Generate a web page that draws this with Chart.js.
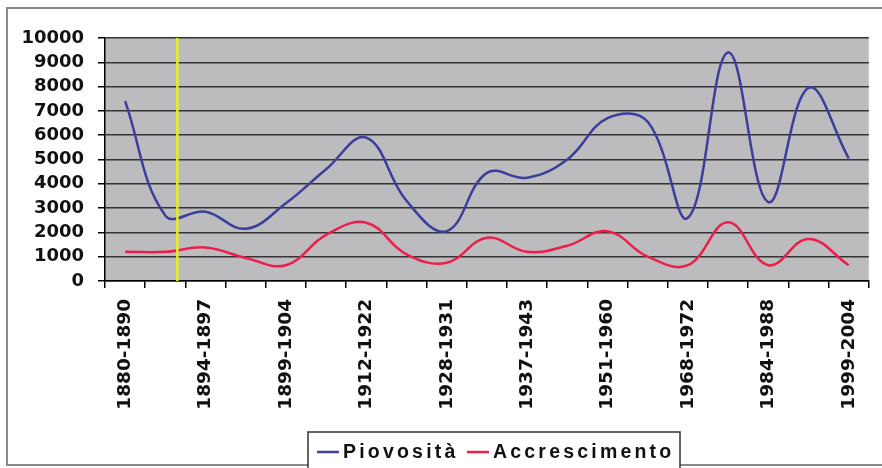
<!DOCTYPE html>
<html>
<head>
<meta charset="utf-8">
<script src="https://cdn.jsdelivr.net/npm/chart.js@4.4.1/dist/chart.umd.min.js"></script>
<style>
  html, body { margin: 0; padding: 0; background: #fff; }
  #chart { display: block; }
</style>
</head>
<body>
<canvas id="chart" width="882" height="468"></canvas>
<script>
// periods (only every other label is printed on the axis)
const periods = [
    "1880-1890", "", "1894-1897", "", "1899-1904", "", "1912-1922", "",
    "1928-1931", "", "1937-1943", "", "1951-1960", "", "1968-1972", "",
    "1984-1988", "", "1999-2004"
];

const piovosita = [
    7400, 2700, 2850, 2150, 3200, 4600, 5900, 3300, 2050, 4450,
    4250, 5000, 6700, 6550, 2600, 9400, 3250, 7950, 5050
];

const accrescimento = [
    1200, 1200, 1380, 950, 650, 1900, 2400, 1100, 750, 1780,
    1200, 1450, 2050, 1000, 650, 2420, 650, 1730, 650
];

const yTicks = { min: 0, max: 10000, step: 1000 };

// the yellow marker sits a little after the second period
const markerIndex = 1.3;

const BLUE = "#3b3e9c";
const RED = "#ec1f4b";
const FONT = "'DejaVu Sans', Arial, sans-serif";

const chartDecor = {
    id: "chartDecor",
    beforeDraw(chart) {
        const { ctx, chartArea: a } = chart;
        ctx.save();
        ctx.fillStyle = "#bcbcbe";
        ctx.fillRect(a.left, a.top, a.right - a.left, a.bottom - a.top);
        ctx.restore();
    },
    afterDatasetsDraw(chart) {
        const { ctx, chartArea: a } = chart;
        const x = chart.scales.x.getPixelForValue(markerIndex);
        ctx.save();
        ctx.strokeStyle = "#e6f01e";
        ctx.lineWidth = 2.5;
        ctx.beginPath();
        ctx.moveTo(x, a.top);
        ctx.lineTo(x, a.bottom);
        ctx.stroke();
        ctx.restore();
    },
    afterDraw(chart) {
        const ctx = chart.ctx;
        ctx.save();
        // outer frame
        ctx.strokeStyle = "#8a8a8a";
        ctx.lineWidth = 2;
        ctx.strokeRect(7, 8, chart.width, 457);

        // legend box
        ctx.strokeStyle = "#333";
        ctx.lineWidth = 1.5;
        ctx.fillStyle = "#fff";
        ctx.fillRect(308, 432, 372, 40);
        ctx.strokeRect(308, 432, 372, 40);

        ctx.font = "bold 19.5px 'Liberation Sans', Arial, sans-serif";
        ctx.letterSpacing = "3.2px";
        ctx.textBaseline = "middle";
        const itemX = [317, 467];
        const y = 452;
        chart.data.datasets.forEach((ds, i) => {
            const x = itemX[i];
            ctx.strokeStyle = ds.borderColor;
            ctx.lineWidth = 2.5;
            ctx.beginPath();
            ctx.moveTo(x, y);
            ctx.lineTo(x + 22, y);
            ctx.stroke();
            ctx.fillStyle = "#111";
            ctx.fillText(ds.label, x + 26, y + 1);
        });
        ctx.restore();
    }
};

new Chart(document.getElementById("chart"), {
    type: "line",
    data: {
        labels: periods,
        datasets: [
            {
                label: "Piovosità",
                data: piovosita,
                borderColor: BLUE,
                borderWidth: 2.5,
                pointRadius: 0,
                tension: 0.4,
                fill: false,
            },
            {
                label: "Accrescimento",
                data: accrescimento,
                borderColor: RED,
                borderWidth: 2.5,
                pointRadius: 0,
                tension: 0.4,
                fill: false,
            }
        ]
    },
    options: {
        responsive: false,
        animation: false,
        layout: { padding: { left: 0, top: 38, right: 4, bottom: 0 } },
        plugins: {
            legend: { display: false },
            tooltip: { enabled: false }
        },
        scales: {
            x: {
                offset: true,
                afterFit: (scale) => { scale.height = 187; },
                grid: {
                    offset: true,
                    drawOnChartArea: false,
                    drawTicks: true,
                    tickLength: 7,
                    color: "#000",
                    lineWidth: 1.5
                },
                border: { display: true, color: "#000", width: 1.5 },
                ticks: {
                    autoSkip: false,
                    maxRotation: 90,
                    minRotation: 90,
                    padding: 11,
                    color: "#111",
                    font: { family: FONT, size: 18.5, weight: "bold" }
                }
            },
            y: {
                min: yTicks.min,
                max: yTicks.max,
                afterFit: (scale) => { scale.width = 105; },
                grid: {
                    color: "#333",
                    lineWidth: 1.5,
                    tickColor: "#000",
                    tickLength: 7
                },
                border: { display: true, color: "#000", width: 1.5 },
                ticks: {
                    autoSkip: false,
                    stepSize: yTicks.step,
                    padding: 14,
                    color: "#111",
                    font: { family: FONT, size: 18, weight: "bold" },
                    callback: (value) => String(value)
                }
            }
        }
    },
    plugins: [chartDecor]
});
</script>
</body>
</html>
